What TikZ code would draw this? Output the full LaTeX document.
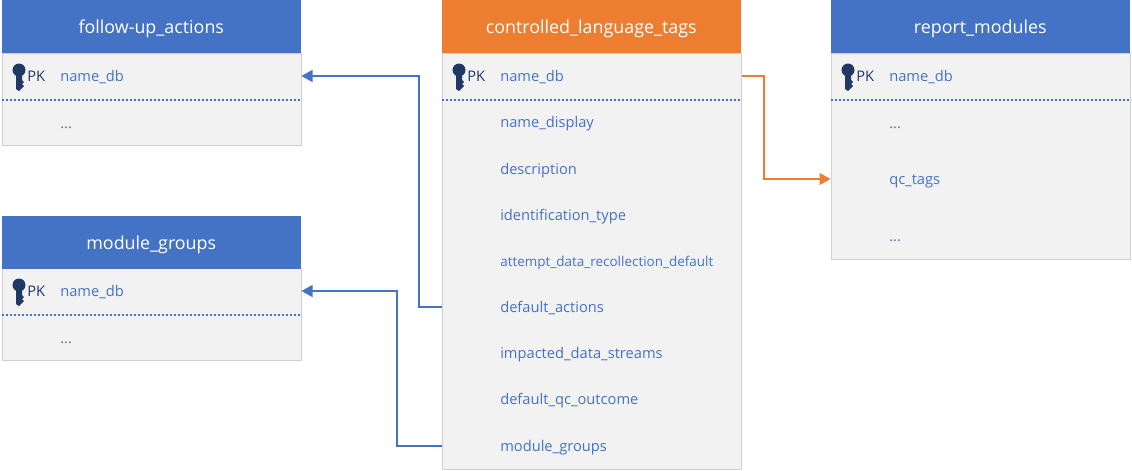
\documentclass[tikz,border=0pt]{standalone}
\usepackage{fontspec}
\setmainfont{Open Sans}
\usetikzlibrary{arrows.meta}
\definecolor{headblue}{HTML}{4472C4}
\definecolor{headorange}{HTML}{ED7D31}
\definecolor{bodygray}{HTML}{F2F2F2}
\definecolor{edgegray}{HTML}{D0D0D0}
\definecolor{keyblue}{HTML}{1F3864}
\tikzset{
	headbox/.style={rectangle,draw=none,fill=headblue,text=white,anchor=north west,
		inner sep=0pt,text height=12.8pt,text depth=3pt,
		minimum width=224.25pt,minimum height=39.75pt,font=\fontsize{13.4pt}{16pt}\selectfont},
	bodybox/.style={rectangle,draw=edgegray,line width=0.75pt,fill=bodygray,anchor=north west,
		inner sep=0pt,minimum width=224.25pt},
	field/.style={anchor=west,inner sep=0pt,text=headblue,text height=10.5pt,text depth=2.3pt,
		font=\fontsize{11pt}{13pt}\selectfont},
	pklabel/.style={anchor=west,inner sep=0pt,text=keyblue,text height=10.5pt,text depth=2.3pt,
		font=\fontsize{11pt}{13pt}\selectfont},
	rowline/.style={draw=headblue,line width=1pt,dash pattern=on 2pt off 1pt},
	bluelink/.style={draw=headblue,line width=1pt,-{Triangle[length=8.25pt,width=9pt]}},
	orangelink/.style={draw=headorange,line width=1pt,-{Triangle[length=8.25pt,width=9pt]}},
	pics/keyicon/.style={code={
		\fill[keyblue] (0,-7) circle (6.5);
		\fill[keyblue] (-3,-2) -- (3,-2) -- (3,3) -- (5,5) -- (3,7) -- (5,9) -- (3,11)
			-- (3,11) -- (0,14) -- (-3,12) -- cycle;
	}}
}
\begin{document}
\begin{tikzpicture}[x=0.75pt,y=-0.75pt]
	\useasboundingbox (0,0) rectangle (1132,471);
	
	% follow-up_actions
	\node[bodybox,minimum height=69.25pt] (fa_body) at (1.5,53) {};
	\node[headbox] (fa_head) at (1.5,0) {follow-up\_actions};
	\pic at (19,77) {keyicon};
	\node[pklabel] (fa_pk) at (27,76) {PK};
	\node[field] (fa_name) at (60,76) {name\_db};
	\node[field] (fa_more) at (60,123) {...};
	\draw[rowline] (fa_body.west |- 0,100) -- (fa_body.east |- 0,100);
	
	% module_groups
	\node[bodybox,minimum height=69.25pt] (mg_body) at (1.5,268) {};
	\node[headbox] (mg_head) at (1.5,216) {module\_groups};
	\pic at (19,292) {keyicon};
	\node[pklabel] (mg_pk) at (27,291) {PK};
	\node[field] (mg_name) at (60,291) {name\_db};
	\node[field] (mg_more) at (60,338) {...};
	\draw[rowline] (mg_body.west |- 0,315) -- (mg_body.east |- 0,315);
	
	% controlled_language_tags
	\node[bodybox,minimum height=312.25pt] (cl_body) at (441.5,53) {};
	\node[headbox,fill=headorange] (cl_head) at (441.5,0) {controlled\_language\_tags};
	\pic at (459,77) {keyicon};
	\node[pklabel] (cl_pk) at (467,76) {PK};
	\node[field] (cl_name) at (500,76) {name\_db};
	\node[field] (cl_display) at (500,122) {name\_display};
	\node[field] (cl_desc) at (500,169) {description};
	\node[field] (cl_ident) at (500,215) {identification\_type};
	\node[field,font=\fontsize{10.1pt}{12pt}\selectfont] (cl_attempt) at (500,261) {attempt\_data\_recollection\_default};
	\node[field] (cl_actions) at (500,307) {default\_actions};
	\node[field] (cl_streams) at (500,353) {impacted\_data\_streams};
	\node[field] (cl_qc) at (500,399) {default\_qc\_outcome};
	\node[field] (cl_groups) at (500,446) {module\_groups};
	\draw[rowline] (cl_body.west |- 0,100) -- (cl_body.east |- 0,100);
	
	% report_modules
	\node[bodybox,minimum height=154.75pt] (rm_body) at (830.5,53) {};
	\node[headbox] (rm_head) at (830.5,0) {report\_modules};
	\pic at (848,77) {keyicon};
	\node[pklabel] (rm_pk) at (856,76) {PK};
	\node[field] (rm_name) at (889,76) {name\_db};
	\node[field] (rm_more) at (889,123) {...};
	\node[field] (rm_tags) at (889,179) {qc\_tags};
	\node[field] (rm_rest) at (889,236) {...};
	\draw[rowline] (rm_body.west |- 0,100) -- (rm_body.east |- 0,100);
	
	% bends
	\coordinate (bend1) at (419,76);
	\coordinate (bend2) at (397,291);
	\coordinate (bend3) at (764,76);
	
	\draw[bluelink] (cl_body.west |- cl_actions) -| (bend1) -- (fa_body.east |- fa_name);
	\draw[bluelink] (cl_body.west |- cl_groups) -| (bend2) -- (mg_body.east |- mg_name);
	\draw[orangelink] (cl_body.east |- cl_name) -- (bend3) |- (rm_body.west |- rm_tags);
\end{tikzpicture}
\end{document}
